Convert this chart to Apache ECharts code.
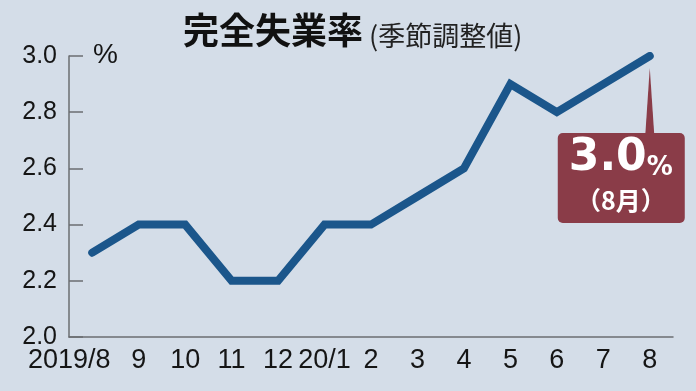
<!DOCTYPE html>
<html><head><meta charset="utf-8">
<script src="https://cdn.jsdelivr.net/npm/echarts@6/dist/echarts.min.js"></script>
<style>html,body{margin:0;padding:0;background:#d4dde8;}#c{width:696px;height:391px;}</style>
</head><body><div id="c"></div>
<script>
const categories = ['2019/8','9','10','11','12','20/1','2','3','4','5','6','7','8'];
const rates = [2.3,2.4,2.4,2.2,2.2,2.4,2.4,2.5,2.6,2.9,2.8,2.9,3.0];
const yMin = 2.0, yMax = 3.0, yStep = 0.2;
const titleMain = '完全失業率';
const titleSub = '(季節調整値)';
const unitLabel = '%';
const calloutValue = '3.0';
const calloutUnit = '%';
const calloutMonth = '（8月）';

const chart = echarts.init(document.getElementById('c'), null, {renderer:'canvas'});
const axisColor = '#6b6e72';
const xFont = 'Liberation Sans, Arial, sans-serif';
const xFontSize = 27;
const option = {
  backgroundColor: '#d4dde8',
  animation: false,
  grid: {left: 69, right: 23, top: 56, bottom: 54},
  xAxis: {
    type: 'category', data: categories, boundaryGap: true,
    axisLine: {lineStyle: {color: axisColor, width: 1.5}},
    axisTick: {alignWithLabel: true, inside: true, length: 7, lineStyle: {color: axisColor, width: 1.5}},
    axisLabel: {
      margin: 10, interval: 0, color: '#151515',
      fontFamily: xFont, fontSize: xFontSize,
      formatter: function (v, i) { return i === 0 ? '{f|' + v + '}' : v; },
      rich: {f: {padding: [0, 46, 0, 0], fontFamily: xFont, fontSize: xFontSize, color: '#151515'}}
    },
    splitLine: {show: false}
  },
  yAxis: {
    type: 'value', min: yMin, max: yMax, interval: yStep,
    axisLine: {show: true, lineStyle: {color: axisColor, width: 1.5}},
    axisTick: {show: true, inside: true, length: 14, lineStyle: {color: axisColor, width: 1.5}},
    axisLabel: {margin: 12, color: '#151515', fontFamily: 'Liberation Sans, Arial, sans-serif', fontSize: 25,
      formatter: function (v) { return v.toFixed(1); }},
    splitLine: {show: false}
  },
  series: [{
    type: 'line', data: rates, symbol: 'none',
    lineStyle: {color: '#1b568b', width: 8, cap: 'round', join: 'miter'}
  }]
};
chart.setOption(option);

const last = rates.length - 1;
const p = chart.convertToPixel({seriesIndex: 0}, [last, rates[last]]);
const bx = p[0] - 92, by = p[1] + 77, bw = 127, bh = 90;
const red = '#8a3c48';
chart.setOption({
  graphic: [
    {type: 'text', left: 183, top: 12, style: {text: titleMain, fontFamily: 'Noto Sans CJK JP', fontWeight: 'bold', fontSize: 36, fill: '#111'}},
    {type: 'text', left: 369, top: 22, style: {text: titleSub, fontFamily: 'Noto Sans CJK JP', fontSize: 27, fill: '#222'}},
    {type: 'text', left: 93, top: 41, style: {text: unitLabel, fontFamily: 'Liberation Sans, Arial, sans-serif', fontSize: 28, fill: '#151515'}},
    {type: 'polygon', shape: {points: [[p[0], p[1] + 12], [p[0] - 4.5, by + 2], [p[0] + 4.5, by + 2]]}, style: {fill: red}},
    {type: 'rect', shape: {x: bx, y: by, width: bw, height: bh, r: 5}, style: {fill: red}},
    {type: 'text', x: bx + 63, y: by + 48, style: {
      text: '{a|' + calloutValue + '}{b|' + calloutUnit + '}', align: 'center', verticalAlign: 'bottom',
      rich: {
        a: {fontFamily: 'DejaVu Sans', fontWeight: 'bold', fontSize: 44, fill: '#fff', verticalAlign: 'bottom', lineHeight: 46},
        b: {fontFamily: 'DejaVu Sans', fontWeight: 'bold', fontSize: 26, fill: '#fff', verticalAlign: 'bottom', lineHeight: 46}
      }}},
    {type: 'text', x: bx + 63, y: by + 55, style: {text: calloutMonth, align: 'center', verticalAlign: 'top',
      fontFamily: 'Noto Sans CJK JP', fontWeight: 'bold', fontSize: 25, fill: '#fff'}}
  ]
});
</script></body></html>
